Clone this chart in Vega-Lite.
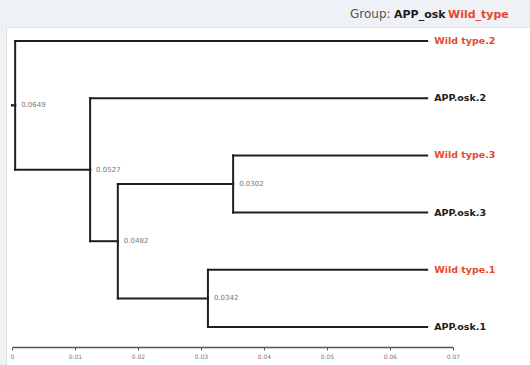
{
  "$schema": "https://vega.github.io/schema/vega-lite/v6.json",
  "width": 524,
  "height": 338,
  "autosize": "none",
  "padding": {"left": 6, "top": 27, "right": 0, "bottom": 0},
  "background": "#eef2f6",
  "config": {
    "view": {"fill": "white", "stroke": "#e0e0e0"},
    "font": "DejaVu Sans"
  },
  "datasets": {
    "edges": [
      {"parent": "origin", "child": "n0649", "px": 0, "py": 2.125, "cx": 0.0005, "cy": 2.125},
      {"parent": "n0649", "child": "Wild type.2", "px": 0.0005, "py": 2.125, "cx": 0.0659, "cy": 1},
      {"parent": "n0649", "child": "n0527", "px": 0.0005, "py": 2.125, "cx": 0.0124, "cy": 3.25},
      {"parent": "n0527", "child": "APP.osk.2", "px": 0.0124, "py": 3.25, "cx": 0.0659, "cy": 2},
      {"parent": "n0527", "child": "n0482", "px": 0.0124, "py": 3.25, "cx": 0.0168, "cy": 4.5},
      {"parent": "n0482", "child": "n0302", "px": 0.0168, "py": 4.5, "cx": 0.0351, "cy": 3.5},
      {"parent": "n0482", "child": "n0342", "px": 0.0168, "py": 4.5, "cx": 0.0311, "cy": 5.5},
      {"parent": "n0302", "child": "Wild type.3", "px": 0.0351, "py": 3.5, "cx": 0.0659, "cy": 3},
      {"parent": "n0302", "child": "APP.osk.3", "px": 0.0351, "py": 3.5, "cx": 0.0659, "cy": 4},
      {"parent": "n0342", "child": "Wild type.1", "px": 0.0311, "py": 5.5, "cx": 0.0659, "cy": 5},
      {"parent": "n0342", "child": "APP.osk.1", "px": 0.0311, "py": 5.5, "cx": 0.0659, "cy": 6}
    ],
    "leaves": [
      {"label": "Wild type.2", "group": "Wild_type", "dist": 0.0659, "order": 1},
      {"label": "APP.osk.2", "group": "APP_osk", "dist": 0.0659, "order": 2},
      {"label": "Wild type.3", "group": "Wild_type", "dist": 0.0659, "order": 3},
      {"label": "APP.osk.3", "group": "APP_osk", "dist": 0.0659, "order": 4},
      {"label": "Wild type.1", "group": "Wild_type", "dist": 0.0659, "order": 5},
      {"label": "APP.osk.1", "group": "APP_osk", "dist": 0.0659, "order": 6}
    ],
    "nodes": [
      {"height": "0.0649", "dist": 0.0005, "order": 2.125},
      {"height": "0.0527", "dist": 0.0124, "order": 3.25},
      {"height": "0.0482", "dist": 0.0168, "order": 4.5},
      {"height": "0.0302", "dist": 0.0351, "order": 3.5},
      {"height": "0.0342", "dist": 0.0311, "order": 5.5}
    ]
  },
  "layer": [
    {
      "data": {"name": "edges"},
      "mark": {"type": "rule", "color": "#1e1e1e", "strokeWidth": 2, "strokeCap": "square"},
      "encoding": {
        "x": {
          "field": "px", "type": "quantitative",
          "scale": {"domain": [0, 0.07], "range": [6, 447], "nice": false, "zero": false},
          "axis": {
            "title": null,
            "values": [0, 0.005, 0.01, 0.015, 0.02, 0.025, 0.03, 0.035, 0.04, 0.045, 0.05, 0.055, 0.06, 0.065, 0.07],
            "format": ".2~f",
            "labelExpr": "round(datum.value*1000) % 10 == 0 ? datum.label : ''",
            "offset": -18,
            "grid": false,
            "domainColor": "#555555",
            "domainWidth": 1.5,
            "tickColor": "#555555",
            "tickSize": 3,
            "labelFontSize": 6,
            "labelColor": "#777777",
            "labelPadding": 3,
            "labelFlush": false,
            "labelOverlap": false
          }
        },
        "x2": {"field": "cx"},
        "y": {
          "field": "cy", "type": "quantitative",
          "scale": {"domain": [1, 6], "range": [14, 300], "nice": false, "zero": false},
          "axis": null
        }
      }
    },
    {
      "data": {"name": "edges"},
      "mark": {"type": "rule", "color": "#1e1e1e", "strokeWidth": 2, "strokeCap": "square"},
      "encoding": {
        "x": {"field": "px", "type": "quantitative"},
        "y": {"field": "py", "type": "quantitative"},
        "y2": {"field": "cy"}
      }
    },
    {
      "data": {"name": "nodes"},
      "mark": {"type": "text", "align": "left", "baseline": "middle", "dx": 6, "fontSize": 7, "fill": "#777777"},
      "encoding": {
        "x": {"field": "dist", "type": "quantitative"},
        "y": {"field": "order", "type": "quantitative"},
        "text": {"field": "height"}
      }
    },
    {
      "data": {"name": "leaves"},
      "mark": {"type": "text", "align": "left", "baseline": "middle", "dx": 7, "fontSize": 9.5, "fontWeight": "bold"},
      "encoding": {
        "x": {"field": "dist", "type": "quantitative"},
        "y": {"field": "order", "type": "quantitative"},
        "text": {"field": "label"},
        "color": {
          "field": "group", "type": "nominal",
          "scale": {"domain": ["APP_osk", "Wild_type"], "range": ["#1c1c1c", "#e8472b"]},
          "legend": {
            "title": "Group:",
            "orient": "none",
            "legendX": 344,
            "legendY": -18,
            "direction": "horizontal",
            "titleOrient": "left",
            "titleFontWeight": "normal",
            "titleFontSize": 12,
            "titleColor": "#555555",
            "titlePadding": 4,
            "labelFontSize": 11,
            "labelFontWeight": "bold",
            "labelOffset": -12,
            "columnPadding": 2,
            "symbolSize": 0,
            "symbolOpacity": 0,
            "symbolStrokeWidth": 0,
            "encode": {
              "labels": {
                "update": {
                  "fill": {"signal": "datum.value === 'Wild_type' ? '#e8472b' : '#1c1c1c'"}
                }
              }
            }
          }
        }
      }
    }
  ]
}
